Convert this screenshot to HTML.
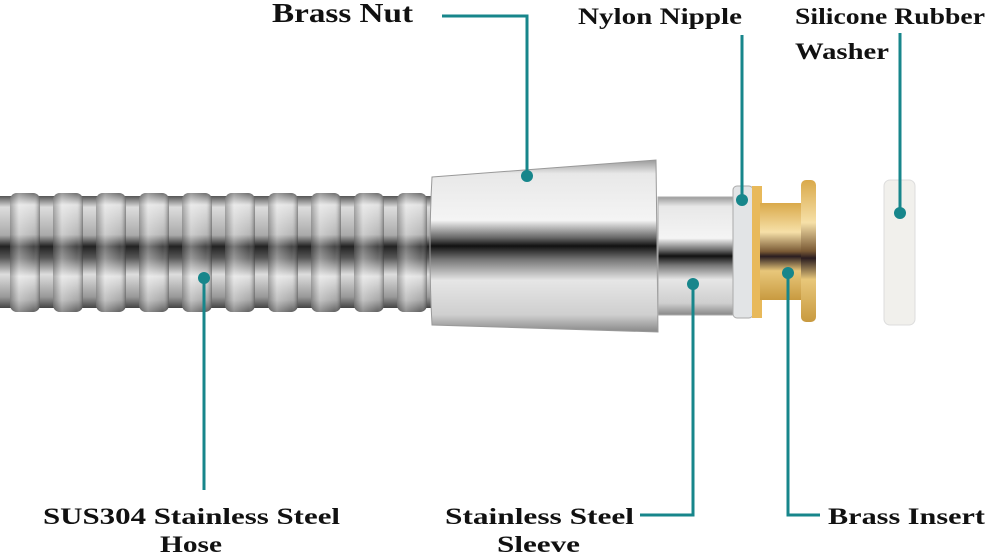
<!DOCTYPE html>
<html><head><style>
html,body{margin:0;padding:0;background:#fff;width:1000px;height:555px;overflow:hidden}
svg text{font-family:"Liberation Serif",serif;font-weight:bold;fill:#111}
</style></head><body>
<svg width="1000" height="555" viewBox="0 0 1000 555" xmlns="http://www.w3.org/2000/svg">
<defs>
<linearGradient id="chrome" x1="0" y1="0" x2="0" y2="1">
<stop offset="0" stop-color="#9a9a9a"/><stop offset="0.08" stop-color="#e8e8e8"/>
<stop offset="0.35" stop-color="#f4f4f4"/><stop offset="0.45" stop-color="#6a6a6a"/>
<stop offset="0.5" stop-color="#111"/><stop offset="0.58" stop-color="#777"/>
<stop offset="0.7" stop-color="#e6e6e6"/><stop offset="0.9" stop-color="#cfcfcf"/>
<stop offset="1" stop-color="#888"/></linearGradient>
<linearGradient id="hose" x1="0" y1="0" x2="0" y2="1">
<stop offset="0" stop-color="#555"/><stop offset="0.1" stop-color="#ddd"/>
<stop offset="0.35" stop-color="#aaa"/><stop offset="0.45" stop-color="#222"/>
<stop offset="0.55" stop-color="#555"/><stop offset="0.7" stop-color="#ddd"/>
<stop offset="0.9" stop-color="#999"/><stop offset="1" stop-color="#444"/></linearGradient>
<linearGradient id="rib" x1="0" y1="0" x2="1" y2="0">
<stop offset="0" stop-color="#666" stop-opacity=".6"/><stop offset="0.3" stop-color="#fff" stop-opacity=".5"/>
<stop offset="0.8" stop-color="#fff" stop-opacity=".2"/><stop offset="1" stop-color="#333" stop-opacity=".6"/></linearGradient>
<linearGradient id="brass" x1="0" y1="0" x2="0" y2="1">
<stop offset="0" stop-color="#d9a94a"/><stop offset="0.3" stop-color="#f6e0a8"/>
<stop offset="0.5" stop-color="#7a5a35"/><stop offset="0.55" stop-color="#2a1d20"/>
<stop offset="0.7" stop-color="#e8c77a"/><stop offset="1" stop-color="#c89a40"/></linearGradient>
</defs>
<rect x="0" y="196" width="440" height="112" fill="url(#hose)"/>
<g>
<rect x="10" y="193" width="30" height="119" rx="7" fill="url(#hose)"/>
<rect x="53" y="193" width="30" height="119" rx="7" fill="url(#hose)"/>
<rect x="96" y="193" width="30" height="119" rx="7" fill="url(#hose)"/>
<rect x="139" y="193" width="30" height="119" rx="7" fill="url(#hose)"/>
<rect x="182" y="193" width="30" height="119" rx="7" fill="url(#hose)"/>
<rect x="225" y="193" width="30" height="119" rx="7" fill="url(#hose)"/>
<rect x="268" y="193" width="30" height="119" rx="7" fill="url(#hose)"/>
<rect x="311" y="193" width="30" height="119" rx="7" fill="url(#hose)"/>
<rect x="354" y="193" width="30" height="119" rx="7" fill="url(#hose)"/>
<rect x="397" y="193" width="30" height="119" rx="7" fill="url(#hose)"/>
</g>
<g opacity=".8">
<rect x="10" y="193" width="30" height="119" rx="7" fill="url(#rib)"/>
<rect x="53" y="193" width="30" height="119" rx="7" fill="url(#rib)"/>
<rect x="96" y="193" width="30" height="119" rx="7" fill="url(#rib)"/>
<rect x="139" y="193" width="30" height="119" rx="7" fill="url(#rib)"/>
<rect x="182" y="193" width="30" height="119" rx="7" fill="url(#rib)"/>
<rect x="225" y="193" width="30" height="119" rx="7" fill="url(#rib)"/>
<rect x="268" y="193" width="30" height="119" rx="7" fill="url(#rib)"/>
<rect x="311" y="193" width="30" height="119" rx="7" fill="url(#rib)"/>
<rect x="354" y="193" width="30" height="119" rx="7" fill="url(#rib)"/>
<rect x="397" y="193" width="30" height="119" rx="7" fill="url(#rib)"/>
</g>
<path d="M432 177 L656 160 L658 332 L432 325 Q428 250 432 177Z" fill="url(#chrome)" stroke="#999" stroke-width="1"/>
<rect x="658" y="197" width="78" height="118" fill="url(#chrome)" stroke="#aaa"/>
<rect x="733" y="186" width="20" height="132" rx="4" fill="#e2e4e6" stroke="#aaa"/>
<rect x="752" y="186" width="10" height="132" fill="#e8b95a"/>
<rect x="760" y="203" width="44" height="97" fill="url(#brass)"/>
<rect x="801" y="180" width="15" height="142" rx="5" fill="url(#brass)"/>
<rect x="884" y="180" width="31" height="145" rx="6" fill="#f1f0ec" stroke="#ddd"/>
<g stroke="#17868b" stroke-width="3" fill="none">
<path d="M442 16 H527 V176"/>
<path d="M742 35 V200"/>
<path d="M900 33 V213"/>
<path d="M204 278 V490"/>
<path d="M693 284 V515 H640"/>
<path d="M788 273 V515 H820"/>
</g>
<g fill="#17868b">
<circle cx="527" cy="176" r="6"/><circle cx="742" cy="200" r="6"/>
<circle cx="900" cy="213" r="6"/><circle cx="204" cy="278" r="6"/>
<circle cx="693" cy="284" r="6"/><circle cx="788" cy="273" r="6"/>
</g>
<text x="272" y="22" font-size="27" textLength="141" lengthAdjust="spacingAndGlyphs">Brass Nut</text>
<text x="578" y="24" font-size="23" textLength="164" lengthAdjust="spacingAndGlyphs">Nylon Nipple</text>
<text x="795" y="24" font-size="23" textLength="190" lengthAdjust="spacingAndGlyphs">Silicone Rubber</text>
<text x="795" y="59" font-size="23" textLength="94" lengthAdjust="spacingAndGlyphs">Washer</text>
<text x="43" y="524" font-size="23" textLength="297" lengthAdjust="spacingAndGlyphs">SUS304 Stainless Steel</text>
<text x="160" y="552" font-size="23" textLength="62" lengthAdjust="spacingAndGlyphs">Hose</text>
<text x="445" y="524" font-size="23" textLength="189" lengthAdjust="spacingAndGlyphs">Stainless Steel</text>
<text x="497" y="552" font-size="23" textLength="83" lengthAdjust="spacingAndGlyphs">Sleeve</text>
<text x="828" y="524" font-size="23" textLength="157" lengthAdjust="spacingAndGlyphs">Brass Insert</text>
</svg>
</body></html>
